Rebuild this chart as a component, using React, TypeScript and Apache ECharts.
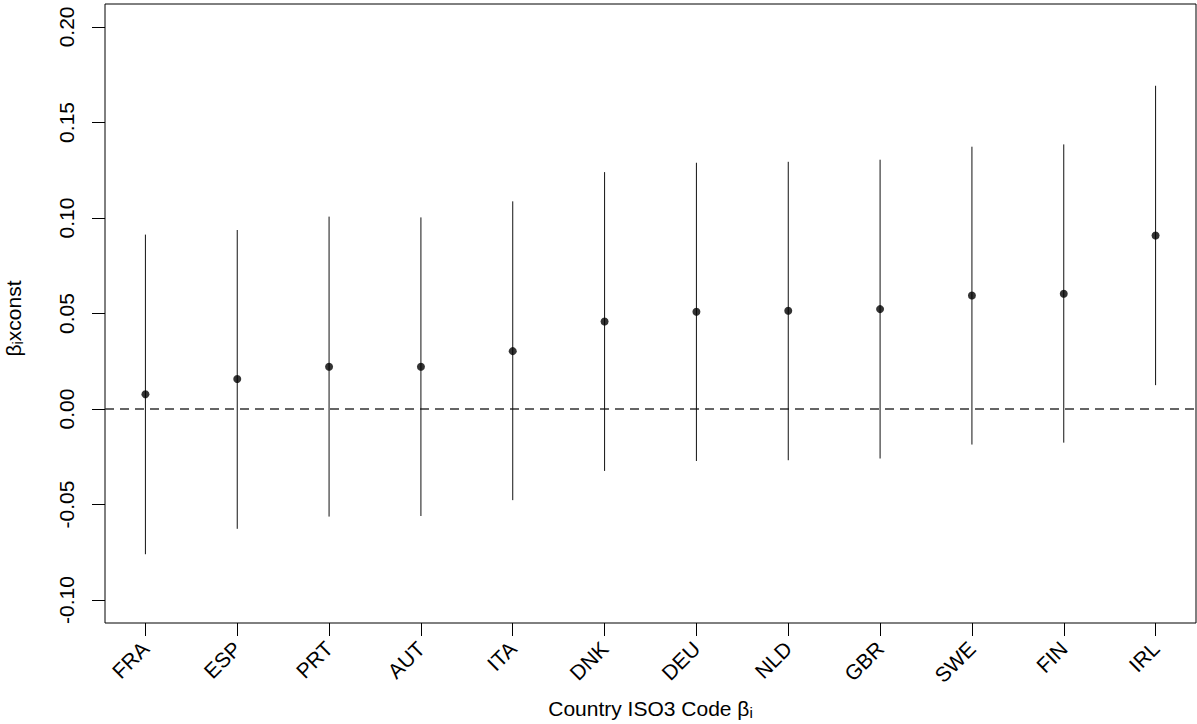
import React, { useEffect, useRef } from "react";
import * as echarts from "echarts";

const countries = ["FRA", "ESP", "PRT", "AUT", "ITA", "DNK", "DEU", "NLD", "GBR", "SWE", "FIN", "IRL"];
const estimates = [0.0077, 0.0157, 0.0221, 0.0221, 0.0303, 0.0458, 0.0509, 0.0514, 0.0523, 0.0594, 0.0603, 0.0908];
const lower = [-0.076, -0.0627, -0.0563, -0.056, -0.0477, -0.0324, -0.0272, -0.0268, -0.0259, -0.0186, -0.0176, 0.0125];
const upper = [0.0913, 0.0937, 0.1007, 0.1003, 0.1087, 0.124, 0.1289, 0.1294, 0.1305, 0.1373, 0.1385, 0.1692];
const yTicks = [-0.1, -0.05, 0, 0.05, 0.1, 0.15, 0.2];
const xTicks = countries.map((_, i) => i + 1);
const xMin = 0.56;
const xMax = 12.44;
const zeroLine = [[xMin, 0], [xMax, 0]];

const FONT = "'Liberation Sans', Arial, Helvetica, sans-serif";

export default function App() {
  const ref = useRef<HTMLDivElement>(null);
  useEffect(() => {
    if (!ref.current) return;
    const chart = echarts.init(ref.current, null, { renderer: "svg" });
    const rich = {
      b: { fontSize: 21, lineHeight: 24, fontFamily: FONT, color: "#000" },
      s: { fontSize: 15, lineHeight: 10, verticalAlign: "bottom", fontFamily: FONT, color: "#000" },
    };
    chart.setOption({
      animation: false,
      backgroundColor: "#fff",
      grid: {
        left: 105,
        right: 1,
        top: 4,
        bottom: 101,
        containLabel: false,
        outerBoundsMode: "none",
        show: true,
        borderColor: "#000",
        borderWidth: 1,
        backgroundColor: "transparent",
      },
      xAxis: {
        type: "value",
        min: xMin,
        max: xMax,
        splitLine: { show: false },
        axisLine: { show: false, onZero: false },
        axisTick: { show: true, customValues: xTicks, length: 13, lineStyle: { color: "#000", width: 1 } },
        axisLabel: {
          customValues: xTicks,
          formatter: (v: number) => countries[Math.round(v) - 1] ?? "",
          rotate: 45,
          margin: 22,
          fontSize: 21,
          fontFamily: FONT,
          color: "#000",
        },
        name: "{b|Country ISO3 Code β}{s|i}",
        nameLocation: "middle",
        nameGap: 73,
        nameTextStyle: { fontSize: 21, fontFamily: FONT, color: "#000", rich },
      },
      yAxis: {
        type: "value",
        min: -0.112,
        max: 0.212,
        splitLine: { show: false },
        axisLine: { show: false, onZero: false },
        axisTick: { show: true, customValues: yTicks, length: 13, lineStyle: { color: "#000", width: 1 } },
        axisLabel: {
          customValues: yTicks,
          formatter: (v: number) => v.toFixed(2),
          rotate: 90,
          margin: 28,
          fontSize: 21,
          fontFamily: FONT,
          color: "#000",
        },
        name: "{b|β}{s|i}{b|xconst}",
        nameLocation: "middle",
        nameGap: 80,
        nameTextStyle: { fontSize: 21, fontFamily: FONT, color: "#000", rich, padding: [0, 10, 0, 0] },
      },
      series: [
        {
          type: "line",
          name: "zero",
          data: zeroLine,
          symbol: "none",
          silent: true,
          lineStyle: { color: "#333", type: [9, 6], width: 1.5 },
          z: 1,
        },
        {
          type: "custom",
          name: "interval",
          data: countries.map((_, i) => [i + 1, lower[i], upper[i]]),
          encode: { x: 0, y: [1, 2] },
          renderItem: (_params: any, api: any) => {
            const x = api.value(0);
            const p1 = api.coord([x, api.value(1)]);
            const p2 = api.coord([x, api.value(2)]);
            return {
              type: "line",
              shape: { x1: p1[0], y1: p1[1], x2: p2[0], y2: p2[1] },
              style: { stroke: "#111", lineWidth: 1 },
            };
          },
          z: 2,
        },
        {
          type: "scatter",
          name: "estimate",
          data: countries.map((_, i) => [i + 1, estimates[i]]),
          symbol: "circle",
          symbolSize: 8,
          itemStyle: { color: "#000" },
          z: 3,
        },
      ],
    });
    return () => chart.dispose();
  }, []);
  return (
    <div
      ref={ref}
      style={{ position: "absolute", left: 0, top: 0, width: 1197, height: 724, background: "#fff" }}
    />
  );
}
